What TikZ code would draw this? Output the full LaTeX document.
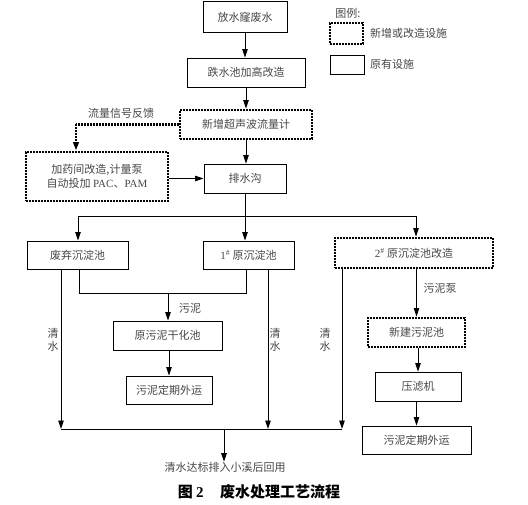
\documentclass[tikz,border=0pt]{standalone}
\usepackage{fontspec}
\setmainfont{Noto Sans CJK SC}
\newfontfamily\latf{Liberation Serif}
\usetikzlibrary{arrows.meta}
\begin{document}
\begin{tikzpicture}[x=1pt,y=-1pt,
  txt/.style={text=black!72, font=\fontsize{11}{13.5}\selectfont, inner sep=0pt},
  box/.style={txt, draw=black, line width=0.9pt},
  newbox/.style={txt, draw=black, line width=2.9pt, dash pattern=on 2pt off 1pt},
  arr/.style={-{Triangle[length=8.5pt,width=5.5pt]}, line width=0.9pt},
  ln/.style={line width=0.9pt},
  fb/.style={line width=2.6pt, dash pattern=on 2pt off 1pt}]
\useasboundingbox (0,0) rectangle (528,505);
% legend
\node[txt] (lg) at (348,13) {图例:};
\node[newbox, minimum width=33pt, minimum height=21pt] (lgn) at (346.5,33.5) {};
\node[txt, anchor=west] (lgnt) at (370,33.5) {新增或改造设施};
\node[box, minimum width=34pt, minimum height=19pt] (lgo) at (347,64.5) {};
\node[txt, anchor=west] (lgot) at (370,64.5) {原有设施};
% main boxes
\node[box, minimum width=84pt, minimum height=31pt] (n1) at (245,17) {放水窿废水};
\node[box, minimum width=118pt, minimum height=29pt] (n2) at (246,72.5) {跌水池加高改造};
\node[newbox, minimum width=132pt, minimum height=29pt] (n3) at (246,124.5) {新增超声波流量计};
\node[newbox, minimum width=142pt, minimum height=49pt, align=center] (n4) at (97,176.5) {加药间改造,计量泵\\自动投加 {\latf PAC}、{\latf PAM}};
\node[box, minimum width=82pt, minimum height=29pt] (n5) at (245,178.5) {排水沟};
\node[box, minimum width=101pt, minimum height=28pt] (n6) at (77.5,255) {废弃沉淀池};
\node[box, minimum width=91pt, minimum height=28pt] (n7) at (248.5,255) {{\latf 1\textsuperscript{\#}} 原沉淀池};
\node[newbox, minimum width=158pt, minimum height=30pt] (n8) at (414,253) {{\latf 2\textsuperscript{\#}} 原沉淀池改造};
\node[box, minimum width=109pt, minimum height=29pt] (n9) at (167.5,335.5) {原污泥干化池};
\node[box, minimum width=86pt, minimum height=28pt] (n10) at (169,390) {污泥定期外运};
\node[newbox, minimum width=97pt, minimum height=29pt] (n11) at (416.5,332.5) {新建污泥池};
\node[box, minimum width=86pt, minimum height=29pt] (n12) at (418,386.5) {压滤机};
\node[box, minimum width=109pt, minimum height=28pt] (n13) at (416.5,440) {污泥定期外运};
\node[txt] (out) at (225,467) {清水达标排入小溪后回用};
\node[font=\fontsize{15}{18}\selectfont\bfseries, inner sep=0pt] (cap) at (259,492) {图 {\latf\bfseries 2}\hspace{1.1em}废水处理工艺流程};
% labels
\node[txt] (lf) at (121,113) {流量信号反馈};
\node[txt] (lw) at (190,308) {污泥};
\node[txt] (lp) at (440,288) {污泥泵};
\node[txt, align=center] (q1) at (53,340) {清\\水};
\node[txt, align=center] (q2) at (275,340) {清\\水};
\node[txt, align=center] (q3) at (325,340) {清\\水};
% coordinates
\coordinate (fbc) at (76,124.5);
\coordinate (bl) at (78,216);
\coordinate (br) at (416,216);
\coordinate (s1) at (79,293);
\coordinate (s2) at (246,293);
\coordinate (s3) at (168,293);
\coordinate (b1) at (61,429);
\coordinate (b2) at (268,429);
\coordinate (b3) at (342,429);
\coordinate (bm) at (224,429);
% connectors
\draw[arr] (n1.south) -- (n1.south |- n2.north);
\draw[arr] (n2.south) -- (n2.south |- n3.north);
\draw[arr] (n3.south) -- (n3.south |- n5.north);
\draw[fb] (n3.west) -- (fbc);
\draw[fb, -{Triangle[length=8.5pt,width=5.5pt]}] (fbc) -- (fbc |- n4.north);
\draw[arr] (n4.east |- n5.west) -- (n5.west);
\draw[ln] (bl) -- (br);
\draw[arr] (n5.south) -- (n5.south |- n7.north);
\draw[arr] (bl) -- (bl |- n6.north);
\draw[arr] (br) -- (br |- n8.north);
% settling tanks outputs
\draw[arr] (n6.south -| b1) -- (b1);
\draw[ln] (n6.south -| s1) -- (s1) -- (s2) -- (s2 |- n7.south);
\draw[arr] (s3) -- (s3 |- n9.north);
\draw[arr] (n9.south -| n10.north) -- (n10.north);
\draw[arr] (n7.south -| b2) -- (b2);
\draw[arr] (n8.south -| b3) -- (b3);
\draw[arr] (n8.south -| n11.north) -- (n11.north);
\draw[arr] (n11.south -| n12.north) -- (n12.north);
\draw[arr] (n12.south -| n13.north) -- (n13.north);
\draw[ln] (b1) -- (b3);
\draw[arr] (bm) -- (bm |- out.north);
\end{tikzpicture}
\end{document}
